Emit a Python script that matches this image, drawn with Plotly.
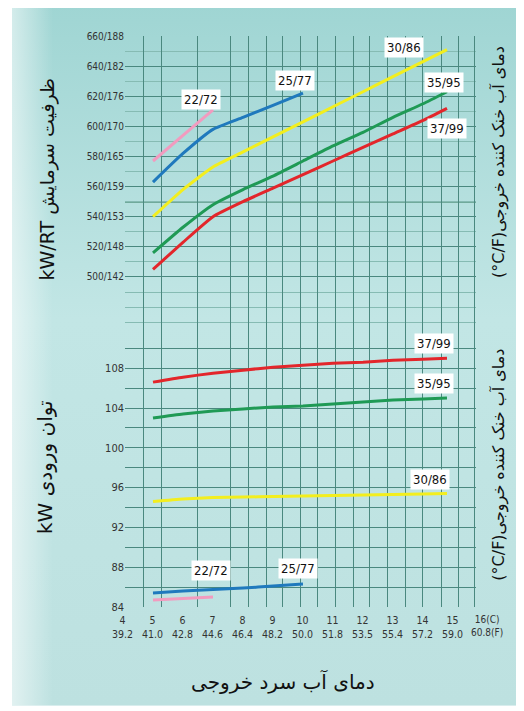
import base64
import plotly.graph_objects as go

# ---------------- data ----------------
x_main = [5, 6, 7, 8, 9, 10, 11, 12, 13, 14, 14.8]
x_25 = [5, 6, 7, 8, 9, 10]
x_22 = [5, 6, 7]

# cooling capacity, kW/RT axis scale
cap_37_99 = [505, 523, 540, 550, 559, 568, 577, 586, 595, 604, 612]
cap_35_95 = [516, 533, 548, 558, 567, 577, 587, 596, 606, 615, 623]
cap_30_86 = [540, 558, 573, 583, 593, 603, 613, 623, 633, 643, 651]
cap_25_77 = [563, 582, 598, 606, 614, 622]
cap_22_72 = [577, 594, 611]

# input power, kW
pow_37_99 = [106.6, 107.1, 107.5, 107.8, 108.1, 108.3, 108.5, 108.6, 108.8, 108.9, 109.0]
pow_35_95 = [103.0, 103.4, 103.7, 103.9, 104.1, 104.2, 104.4, 104.6, 104.8, 104.9, 105.0]
pow_30_86 = [94.6, 94.85, 95.0, 95.05, 95.1, 95.15, 95.2, 95.25, 95.3, 95.35, 95.4]
pow_25_77 = [85.4, 85.6, 85.75, 85.9, 86.1, 86.3]
pow_22_72 = [84.7, 84.85, 85.0]

cap_tick_vals = [660, 640, 620, 600, 580, 560, 540, 520, 500]
cap_tick_text = ["660/188", "640/182", "620/176", "600/170", "580/165",
                 "560/159", "540/153", "520/148", "500/142"]
pow_tick_vals = [108, 104, 100, 96, 92, 88, 84]
x_tick_c = [4, 5, 6, 7, 8, 9, 10, 11, 12, 13, 14, 15, 16]
x_tick_f = ["39.2", "41.0", "42.8", "44.6", "46.4", "48.2", "50.0",
            "51.8", "53.5", "55.4", "57.2", "59.0", "60.8"]

# ---------------- style ----------------
colors = {"37/99": "#e3262b", "35/95": "#1f9a55", "30/86": "#f3ee1e",
          "25/77": "#1f79bd", "22/72": "#f29bbf"}
narrow = "Liberation Sans Narrow, Arial Narrow, DejaVu Sans Condensed, Liberation Sans, sans-serif"
fa_font = "DejaVu Sans, Noto Sans, sans-serif"
grid_dark = "#4a887f"
grid_light = "#86bbb3"

# vertical grid positions (decorative grid of the printed chart)
grid_x = [4.667, 5.3, 6.467, 7.6, 8.167, 8.767, 9.333, 9.933, 10.5, 11.1,
          11.667, 12.233, 12.833, 13.433, 14.0, 14.633, 15.167, 15.733]
cap_minor = [650, 630, 610, 590, 570, 550, 530, 510, 490, 480, 470]
pow_minor = [110, 106, 102, 98, 94, 90, 86]

cap_range = [280.85, 660]
pow_range = [84, 141.39]
x_range = [4.067, 15.767]

fig = go.Figure()

top_series = [("37/99", x_main, cap_37_99), ("35/95", x_main, cap_35_95),
              ("30/86", x_main, cap_30_86), ("25/77", x_25, cap_25_77),
              ("22/72", x_22, cap_22_72)]
bot_series = [("37/99", x_main, pow_37_99), ("35/95", x_main, pow_35_95),
              ("30/86", x_main, pow_30_86), ("25/77", x_25, pow_25_77),
              ("22/72", x_22, pow_22_72)]

for name, xs, ys in top_series:
    fig.add_trace(go.Scatter(x=xs, y=ys, mode="lines", name=name,
                             line=dict(color=colors[name], width=3, shape="spline", smoothing=0.5),
                             yaxis="y", showlegend=False, hoverinfo="skip"))
for name, xs, ys in bot_series:
    fig.add_trace(go.Scatter(x=xs, y=ys, mode="lines", name=name,
                             line=dict(color=colors[name], width=3, shape="spline", smoothing=0.5),
                             yaxis="y2", showlegend=False, hoverinfo="skip"))

# series labels, anchored at each series' last point
top_label_shift = {"22/72": (-12, 10), "25/77": (-8, 13), "30/86": (-43, 2),
                   "35/95": (-3, 9), "37/99": (0, -20)}
bot_label_shift = {"37/99": (-13, 15), "35/95": (-13, 15), "30/86": (-17, 14),
                   "25/77": (-5, 16), "22/72": (-2, 27)}
ann = []
for name, xs, ys in top_series:
    dx, dy = top_label_shift[name]
    ann.append(dict(x=xs[-1], y=ys[-1], xref="x", yref="y", text=name, showarrow=False,
                    xanchor="center", yanchor="middle",
                    xshift=dx, yshift=dy, bgcolor="white", borderpad=2,
                    font=dict(family=narrow, size=13, color="#111")))
for name, xs, ys in bot_series:
    dx, dy = bot_label_shift[name]
    ann.append(dict(x=xs[-1], y=ys[-1], xref="x", yref="y2", text=name, showarrow=False,
                    xanchor="center", yanchor="middle",
                    xshift=dx, yshift=dy, bgcolor="white", borderpad=2,
                    font=dict(family=narrow, size=13, color="#111")))

# x tick labels (°C over °F), positioned through the x scale
span = x_range[1] - x_range[0]
for i, (c, f) in enumerate(zip(x_tick_c, x_tick_f)):
    last = i == len(x_tick_c) - 1
    t = f"{c}(C)<br>{f}(F)" if last else f"{c}<br>{f}"
    ann.append(dict(x=(c - x_range[0]) / span, y=0, xref="paper", yref="paper",
                    xanchor="center", yanchor="top", yshift=-5, xshift=4 if last else 0,
                    text=t, showarrow=False,
                    font=dict(family=narrow, size=10 if last else 10.5, color="#333")))

# axis titles
title_common = dict(xref="paper", yref="paper", showarrow=False,
                    xanchor="center", yanchor="middle")
ann.append(dict(x=-0.22, y=0.75, textangle=-90, text="kW/RT ظرفیت سرمایش",
                font=dict(family=fa_font, size=19, color="#111"), **title_common))
ann.append(dict(x=-0.228, y=0.245, textangle=-90, text="kW توان ورودی",
                font=dict(family=fa_font, size=20, color="#111"), **title_common))
ann.append(dict(x=1.065, y=0.779, textangle=-90, text="(°C/F)دمای آب خنک کننده خروجی",
                font=dict(family=fa_font, size=16, color="#111"), **title_common))
ann.append(dict(x=1.065, y=0.249, textangle=-90, text="(°C/F)دمای آب خنک کننده خروجی",
                font=dict(family=fa_font, size=16, color="#111"), **title_common))
ann.append(dict(x=0.45, y=-0.131, text="دمای آب سرد خروجی",
                font=dict(family=fa_font, size=20, color="#111"), **title_common))

# background card gradient
svg = """<svg xmlns="http://www.w3.org/2000/svg" width="512" height="703" viewBox="0 0 512 703" preserveAspectRatio="none">
<defs>
<linearGradient id="g" x1="0" y1="0" x2="0" y2="1">
<stop offset="0" stop-color="#9fd5d3"/><stop offset="0.45" stop-color="#c2e6e5"/><stop offset="1" stop-color="#bde1e0"/>
</linearGradient>
<linearGradient id="h" x1="0" y1="0" x2="1" y2="0">
<stop offset="0" stop-color="#ffffff" stop-opacity="0.55"/><stop offset="0.08" stop-color="#ffffff" stop-opacity="0"/>
</linearGradient>
</defs>
<rect width="512" height="703" fill="url(#g)"/><rect width="512" height="703" fill="url(#h)"/>
</svg>"""
src = "data:image/svg+xml;base64," + base64.b64encode(svg.encode()).decode()

# the page body adds an 8px offset, so the figure is 8px smaller and margins shifted
fig.update_layout(
    width=516, height=703,
    margin=dict(l=117, r=48, t=28, b=104),
    paper_bgcolor="white", plot_bgcolor="rgba(0,0,0,0)",
    images=[dict(source=src, xref="paper", yref="paper", x=-0.322, y=1.058,
                 sizex=1.459, sizey=1.231, xanchor="left", yanchor="top",
                 sizing="stretch", layer="below")],
    xaxis=dict(range=x_range, tickmode="array", tickvals=grid_x, showticklabels=False,
               showgrid=True, gridcolor=grid_dark, gridwidth=1, zeroline=False,
               showline=False, ticks=""),
    yaxis=dict(range=cap_range, tickmode="array", tickvals=cap_tick_vals,
               ticktext=cap_tick_text, showgrid=True, gridcolor=grid_dark, gridwidth=1,
               zeroline=False, ticks="", tickfont=dict(family=narrow, size=10, color="#333"),
               minor=dict(tickmode="array", tickvals=cap_minor, showgrid=True,
                          gridcolor=grid_light, gridwidth=1)),
    yaxis2=dict(range=pow_range, overlaying="y", side="left", tickmode="array",
                tickvals=pow_tick_vals, showgrid=True, gridcolor=grid_dark, gridwidth=1,
                zeroline=False, ticks="", tickfont=dict(family=narrow, size=11, color="#333"),
                minor=dict(tickmode="array", tickvals=pow_minor, showgrid=True,
                           gridcolor=grid_dark, gridwidth=1)),
    annotations=ann,
    shapes=[dict(type="line", xref="paper", yref="y", x0=0, x1=1, y0=550, y1=550,
                 line=dict(color="#2c7459", width=1.5), layer="below")],
)

fig.write_html("out.html")
